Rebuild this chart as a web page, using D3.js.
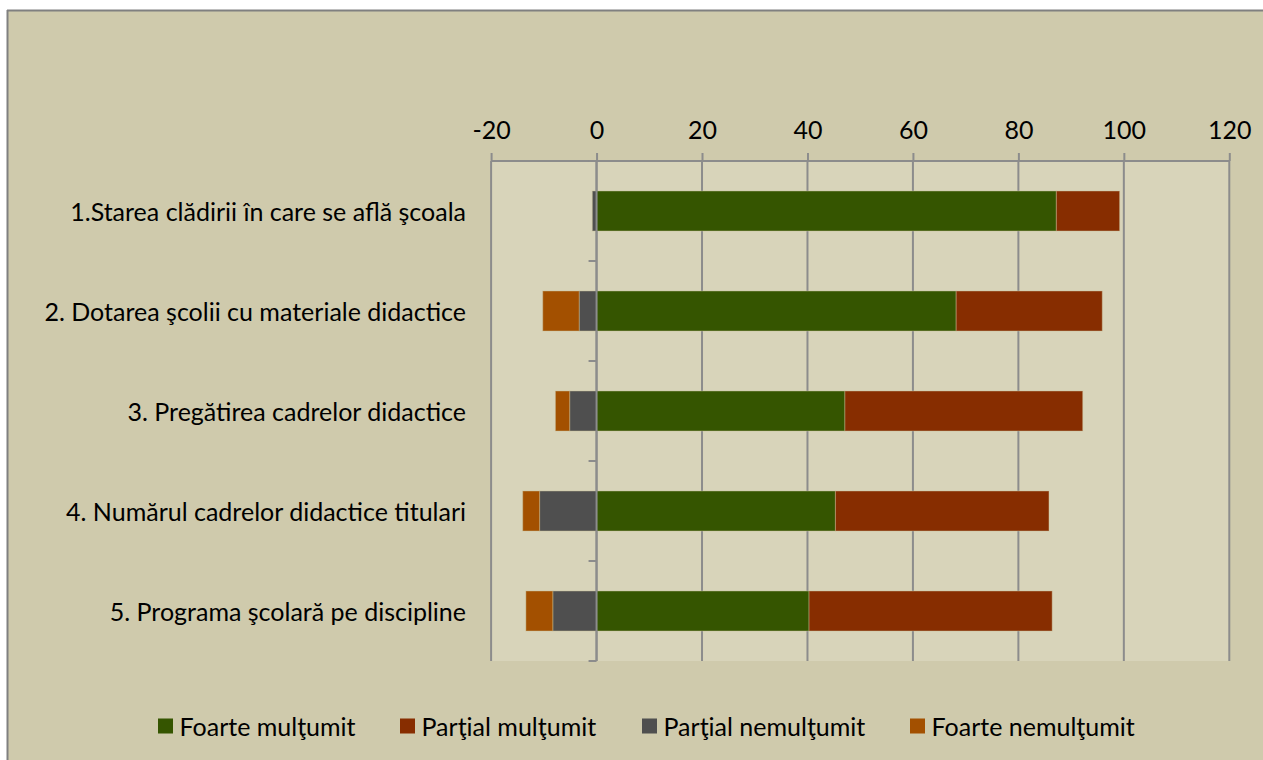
<!DOCTYPE html>
<html>
<head>
<meta charset="utf-8">
<script src="https://cdn.jsdelivr.net/npm/d3@7"></script>
<style>
html,body{margin:0;padding:0;background:#fff;}
svg{display:block;}
text{font-family:Lato, "Liberation Sans", sans-serif;fill:#000;}
</style>
</head>
<body>
<svg id="chart" width="1263" height="760"></svg>
<script>
const categories = [
  "1.Starea clădirii în care se află şcoala",
  "2. Dotarea şcolii cu materiale didactice",
  "3. Pregătirea cadrelor didactice",
  "4. Numărul cadrelor didactice titulari",
  "5. Programa şcolară pe discipline"
];
const seriesNames = ["Foarte mulţumit", "Parţial mulţumit", "Parţial nemulţumit", "Foarte nemulţumit"];
const foarteMultumit = [87.2, 68.2, 47.1, 45.3, 40.3];
const partialMultumit = [12.0, 27.7, 45.1, 40.5, 46.1];
const partialNemultumit = [-0.8, -3.3, -5.1, -10.8, -8.3];
const foarteNemultumit = [0, -6.9, -2.7, -3.2, -5.1];
const xTicks = [-20, 0, 20, 40, 60, 80, 100, 120];
const xTickLabels = ["-20", "0", "20", "40", "60", "80", "100", "120"];
const colors = ["#355500", "#872D00", "#4F4F4F", "#A35000"];

const svg = d3.select("#chart");
const W = 1263, H = 760;

// chart background + border
svg.append("rect").attr("x", 8).attr("y", 11).attr("width", W).attr("height", H).attr("fill", "#CFCAAC");
svg.append("line").attr("x1", 7.5).attr("x2", 7.5).attr("y1", 10).attr("y2", H).attr("stroke", "#808080").attr("stroke-width", 2);
svg.append("line").attr("x1", 7).attr("x2", W).attr("y1", 10.5).attr("y2", 10.5).attr("stroke", "#808080").attr("stroke-width", 2);

const x = d3.scaleLinear().domain([-20, 120]).range([491.1, 1229.3]);
const y = d3.scaleBand().domain(categories).range([161, 661]).paddingInner(0.6).paddingOuter(0.3);

// plot area
svg.append("rect").attr("x", x(-20)).attr("y", 161).attr("width", x(120) - x(-20)).attr("height", 500).attr("fill", "#D8D4BA");

// gridlines
svg.append("g").selectAll("line").data(xTicks).join("line")
  .attr("x1", d => x(d)).attr("x2", d => x(d)).attr("y1", 161).attr("y2", 661)
  .attr("stroke", "#8C8C8C").attr("stroke-width", 2);

// top axis
const xAxis = svg.append("g").attr("transform", "translate(0,161)")
  .call(d3.axisTop(x).tickValues(xTicks).tickSize(8).tickPadding(14)
    .tickFormat((d, i) => xTickLabels[i]));
xAxis.select(".domain").attr("stroke", "#8C8C8C").attr("stroke-width", 2).attr("d", `M${x(-20)},0H${x(120)}`);
xAxis.selectAll(".tick line").attr("stroke", "#8C8C8C").attr("stroke-width", 2);
xAxis.selectAll(".tick text").attr("font-size", 25).attr("font-family", "Lato, sans-serif").attr("fill", "#000");

// bars
const stacks = [
  {vals: foarteMultumit, base: () => 0, c: colors[0]},
  {vals: partialMultumit, base: i => foarteMultumit[i], c: colors[1]},
  {vals: partialNemultumit, base: () => 0, c: colors[2]},
  {vals: foarteNemultumit, base: i => partialNemultumit[i], c: colors[3]}
];
stacks.forEach(s => {
  svg.append("g").selectAll("rect").data(categories).join("rect")
    .attr("x", (d, i) => x(Math.min(s.base(i), s.base(i) + s.vals[i])))
    .attr("width", (d, i) => Math.abs(x(s.base(i) + s.vals[i]) - x(s.base(i))))
    .attr("y", d => y(d))
    .attr("height", y.bandwidth())
    .attr("fill", s.c)
    .attr("stroke", "rgba(200,190,150,0.45)").attr("stroke-width", 1)
    .style("display", (d, i) => s.vals[i] === 0 ? "none" : null);
});

// category axis at 0
const step = y.step();
const yAxisG = svg.append("g");
yAxisG.append("line").attr("x1", x(0)).attr("x2", x(0)).attr("y1", 161).attr("y2", 661)
  .attr("stroke", "#8C8C8C").attr("stroke-width", 2);
const bounds = d3.range(categories.length + 1).map(i => 161 + i * step);
yAxisG.selectAll("line.t").data(bounds).join("line").attr("class", "t")
  .attr("x1", x(0) - 8).attr("x2", x(0)).attr("y1", d => d).attr("y2", d => d)
  .attr("stroke", "#8C8C8C").attr("stroke-width", 2);

// category labels
svg.append("g").selectAll("text").data(categories).join("text")
  .attr("x", 466).attr("y", d => y(d) + y.bandwidth() / 2)
  .attr("text-anchor", "end").attr("dominant-baseline", "central")
  .attr("font-size", 25).text(d => d);

// legend
const legendX = [158, 400, 642, 910];
const lg = svg.append("g").selectAll("g").data(seriesNames).join("g")
  .attr("transform", (d, i) => `translate(${legendX[i]},726)`);
lg.append("rect").attr("x", 0).attr("y", -7.5).attr("width", 15).attr("height", 15).attr("fill", (d, i) => colors[i]);
lg.append("text").attr("x", 21.5).attr("y", 0).attr("dominant-baseline", "central").attr("font-size", 25).text(d => d);
</script>
</body>
</html>
